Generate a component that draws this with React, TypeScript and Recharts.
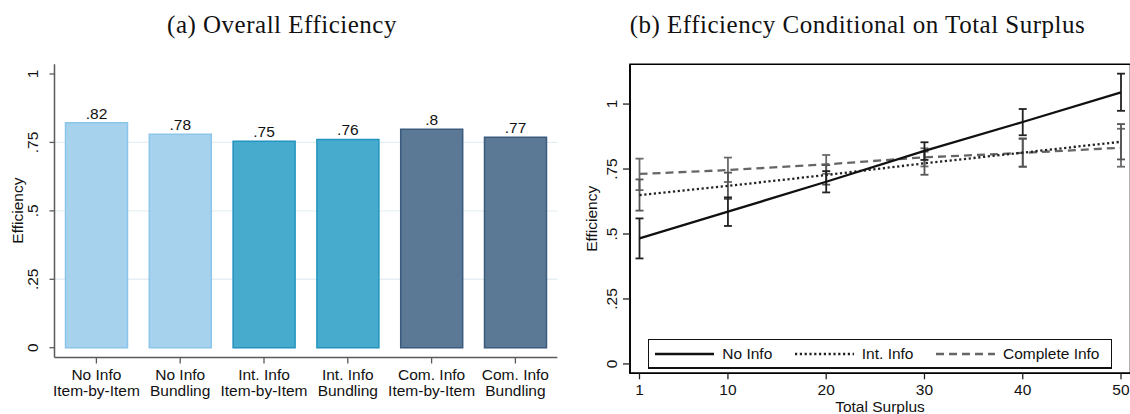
import React from "react";
import {
  BarChart,
  Bar,
  Cell,
  LabelList,
  XAxis,
  YAxis,
  CartesianGrid,
  LineChart,
  Line,
  ErrorBar,
  ReferenceArea,
} from "recharts";

// ---------- Panel (a) data ----------
const barCategoriesTop = ["No Info", "No Info", "Int. Info", "Int. Info", "Com. Info", "Com. Info"];
const barCategoriesBottom = ["Item-by-Item", "Bundling", "Item-by-Item", "Bundling", "Item-by-Item", "Bundling"];
const barValues = [0.822, 0.78, 0.754, 0.761, 0.798, 0.769];
const barFills = ["#a6d2ee", "#a6d2ee", "#46abcd", "#46abcd", "#5b7995", "#5b7995"];
const barStrokes = ["#8cc5ea", "#8cc5ea", "#2394c0", "#2394c0", "#3b5b7e", "#3b5b7e"];
const effTicks = [0, 0.25, 0.5, 0.75, 1];

// ---------- Panel (b) data ----------
const surplusX = [1, 10, 20, 30, 40, 50];
const noInfo = [0.483, 0.586, 0.701, 0.82, 0.931, 1.045];
const noInfoLo = [0.406, 0.531, 0.66, 0.785, 0.88, 0.974];
const noInfoHi = [0.56, 0.641, 0.742, 0.853, 0.981, 1.117];
const intInfo = [0.65, 0.685, 0.727, 0.772, 0.813, 0.855];
const intInfoLo = [0.59, 0.635, 0.69, 0.728, 0.759, 0.787];
const intInfoHi = [0.71, 0.736, 0.765, 0.817, 0.868, 0.923];
const compInfo = [0.731, 0.746, 0.768, 0.795, 0.812, 0.832];
const compInfoLo = [0.669, 0.7, 0.732, 0.76, 0.759, 0.759];
const compInfoHi = [0.79, 0.794, 0.804, 0.83, 0.866, 0.905];
const surplusTicks = [1, 10, 20, 30, 40, 50];
const seriesNames = ["No Info", "Int. Info", "Complete Info"];

const barData = barValues.map((v, i) => ({
  cat: barCategoriesTop[i] + "|" + barCategoriesBottom[i],
  eff: v,
}));

const lineData = surplusX.map((x, i) => ({
  x,
  no: noInfo[i],
  noErr: [noInfo[i] - noInfoLo[i], noInfoHi[i] - noInfo[i]],
  int: intInfo[i],
  intErr: [intInfo[i] - intInfoLo[i], intInfoHi[i] - intInfo[i]],
  comp: compInfo[i],
  compErr: [compInfo[i] - compInfoLo[i], compInfoHi[i] - compInfo[i]],
}));

const SANS = '"Liberation Sans", Arial, Helvetica, sans-serif';
const SERIF = '"Liberation Serif", "Times New Roman", serif';
const FS = 15.5;

const fmtEff = (v: number) => {
  if (v === 0) return "0";
  if (v === 1) return "1";
  return String(Number(Number(v).toFixed(2))).replace(/^0/, "");
};

const RotYTick = (props: any) => {
  const { x, y, payload, shift } = props;
  const cx = x - shift;
  return (
    <text
      x={cx}
      y={y}
      transform={`rotate(-90 ${cx} ${y})`}
      textAnchor="middle"
      dominantBaseline="central"
      fontFamily={SANS}
      fontSize={FS}
      fill="#111"
    >
      {fmtEff(payload.value)}
    </text>
  );
};

const BarXTick = (props: any) => {
  const { x, y, payload } = props;
  const [a, b] = String(payload.value).split("|");
  return (
    <g>
      <text x={x} y={y + 14} textAnchor="middle" fontFamily={SANS} fontSize={FS} fill="#111">
        {a}
      </text>
      <text x={x} y={y + 30} textAnchor="middle" fontFamily={SANS} fontSize={FS} fill="#111">
        {b}
      </text>
    </g>
  );
};

const LineXTick = (props: any) => {
  const { x, y, payload } = props;
  return (
    <text x={x} y={y + 14} textAnchor="middle" fontFamily={SANS} fontSize={FS} fill="#111">
      {payload.value}
    </text>
  );
};

const legendStyles = [
  { stroke: "#111", dash: undefined as string | undefined },
  { stroke: "#222", dash: "2.2 2.6" },
  { stroke: "#666", dash: "8 5" },
];

const LegendBox = () => (
  <div
    style={{
      position: "absolute",
      left: 648.3,
      top: 339.3,
      boxSizing: "border-box",
      width: 464,
      height: 29.5,
      border: "1.3px solid #111",
      borderBottomWidth: 2,
      background: "#fff",
      display: "flex",
      alignItems: "center",
      paddingLeft: 6,
      fontFamily: SANS,
      fontSize: FS,
      color: "#111",
      whiteSpace: "nowrap",
    }}
  >
    {seriesNames.map((n, i) => (
      <div
        key={n}
        style={{ display: "flex", alignItems: "center", marginRight: 22.5, flexShrink: 0 }}
      >
        <svg width={59} height={6} style={{ marginRight: 8, flexShrink: 0 }}>
          <line
            x1={0}
            y1={3}
            x2={59}
            y2={3}
            stroke={legendStyles[i].stroke}
            strokeWidth={2.3}
            strokeDasharray={legendStyles[i].dash}
          />
        </svg>
        <span style={{ lineHeight: 1 }}>{n}</span>
      </div>
    ))}
  </div>
);

export default function App() {
  return (
    <div
      style={{
        position: "fixed",
        left: 0,
        top: 0,
        width: 1130,
        height: 414,
        overflow: "hidden",
        background: "#fff",
      }}
    >
      {/* Panel (a) */}
      <div style={{ position: "absolute", left: 0, top: 0 }}>
        <BarChart
          width={560}
          height={414}
          data={barData}
          margin={{ top: 64.3, right: 2.7, bottom: 0, left: 0 }}
        >
          <CartesianGrid
            vertical={false}
            horizontalValues={[0.25, 0.5, 0.75]}
            stroke="#e5eff3"
            strokeWidth={1.3}
          />
          <XAxis
            dataKey="cat"
            type="category"
            interval={0}
            height={56.5}
            tickSize={6}
            tickMargin={2}
            axisLine={{ stroke: "#5a5a5a", strokeWidth: 1.5 }}
            tickLine={{ stroke: "#5a5a5a", strokeWidth: 1.3 }}
            tick={<BarXTick />}
          />
          <YAxis
            type="number"
            width={54.5}
            domain={[-0.0358, 1.0354]}
            allowDataOverflow
            ticks={effTicks}
            interval={0}
            tickSize={5}
            tickMargin={2}
            axisLine={{ stroke: "#5a5a5a", strokeWidth: 1.5 }}
            tickLine={{ stroke: "#5a5a5a", strokeWidth: 1.3 }}
            tick={<RotYTick shift={14.5} />}
          />
          <Bar dataKey="eff" barSize={62} strokeWidth={1.5} isAnimationActive={false}>
            {barData.map((d, i) => (
              <Cell key={i} fill={barFills[i]} stroke={barStrokes[i]} />
            ))}
            <LabelList
              dataKey="eff"
              position="top"
              offset={4}
              formatter={(v: any) => fmtEff(v)}
              style={{ fontFamily: SANS, fontSize: FS, fill: "#111" }}
            />
          </Bar>
        </BarChart>
      </div>

      {/* Panel (b) */}
      <div style={{ position: "absolute", left: 570, top: 0 }}>
        <LineChart
          width={570}
          height={414}
          data={lineData}
          margin={{ top: 64.3, right: 9.5, bottom: 0, left: 0 }}
        >
          <XAxis
            dataKey="x"
            type="number"
            domain={[0.033, 50.967]}
            allowDataOverflow
            ticks={surplusTicks}
            interval={0}
            height={40.7}
            tickSize={6}
            tickMargin={2}
            axisLine={{ stroke: "#000", strokeWidth: 1.6 }}
            tickLine={{ stroke: "#222", strokeWidth: 1.3 }}
            tick={<LineXTick />}
          />
          <YAxis
            type="number"
            width={60}
            domain={[-0.036, 1.153]}
            allowDataOverflow
            ticks={effTicks}
            interval={0}
            tickSize={7}
            tickMargin={2}
            axisLine={{ stroke: "#000", strokeWidth: 1.6 }}
            tickLine={{ stroke: "#222", strokeWidth: 1.3 }}
            tick={<RotYTick shift={9} />}
          />
          <ReferenceArea
            x1={0.033}
            x2={50.967}
            y1={-0.036}
            y2={1.153}
            fill="none"
            fillOpacity={0}
            stroke="#000"
            strokeWidth={1.6}
            ifOverflow="visible"
          />
          <Line
            dataKey="comp"
            type="linear"
            stroke="#666"
            strokeWidth={2.3}
            strokeDasharray="8 5"
            dot={false}
            activeDot={false}
            isAnimationActive={false}
          >
            <ErrorBar dataKey="compErr" direction="y" width={4} stroke="#6a6a6a" strokeWidth={1.8} />
          </Line>
          <Line
            dataKey="int"
            type="linear"
            stroke="#222"
            strokeWidth={2.3}
            strokeDasharray="2.2 2.6"
            dot={false}
            activeDot={false}
            isAnimationActive={false}
          >
            <ErrorBar dataKey="intErr" direction="y" width={4} stroke="#555" strokeWidth={1.8} />
          </Line>
          <Line
            dataKey="no"
            type="linear"
            stroke="#111"
            strokeWidth={2.3}
            dot={false}
            activeDot={false}
            isAnimationActive={false}
          >
            <ErrorBar dataKey="noErr" direction="y" width={4} stroke="#222" strokeWidth={1.8} />
          </Line>
        </LineChart>
      </div>

      <LegendBox />

      {/* Titles and axis titles */}
      <svg
        width={1130}
        height={414}
        style={{ position: "absolute", left: 0, top: 0, pointerEvents: "none" }}
      >
        <text x={282} y={33} textAnchor="middle" fontFamily={SERIF} fontSize={25} letterSpacing={0.5} fill="#111">
          (a) Overall Efficiency
        </text>
        <text x={857.5} y={33} textAnchor="middle" fontFamily={SERIF} fontSize={25} letterSpacing={0.5} fill="#111">
          (b) Efficiency Conditional on Total Surplus
        </text>
        <text
          x={18}
          y={210.6}
          transform="rotate(-90 18 210.6)"
          textAnchor="middle"
          dominantBaseline="central"
          fontFamily={SANS}
          fontSize={FS}
          fill="#111"
        >
          Efficiency
        </text>
        <text
          x={591.5}
          y={218.8}
          transform="rotate(-90 591.5 218.8)"
          textAnchor="middle"
          dominantBaseline="central"
          fontFamily={SANS}
          fontSize={FS}
          fill="#111"
        >
          Efficiency
        </text>
        <text x={880} y={411.5} textAnchor="middle" fontFamily={SANS} fontSize={FS} fill="#111">
          Total Surplus
        </text>
      </svg>
    </div>
  );
}
